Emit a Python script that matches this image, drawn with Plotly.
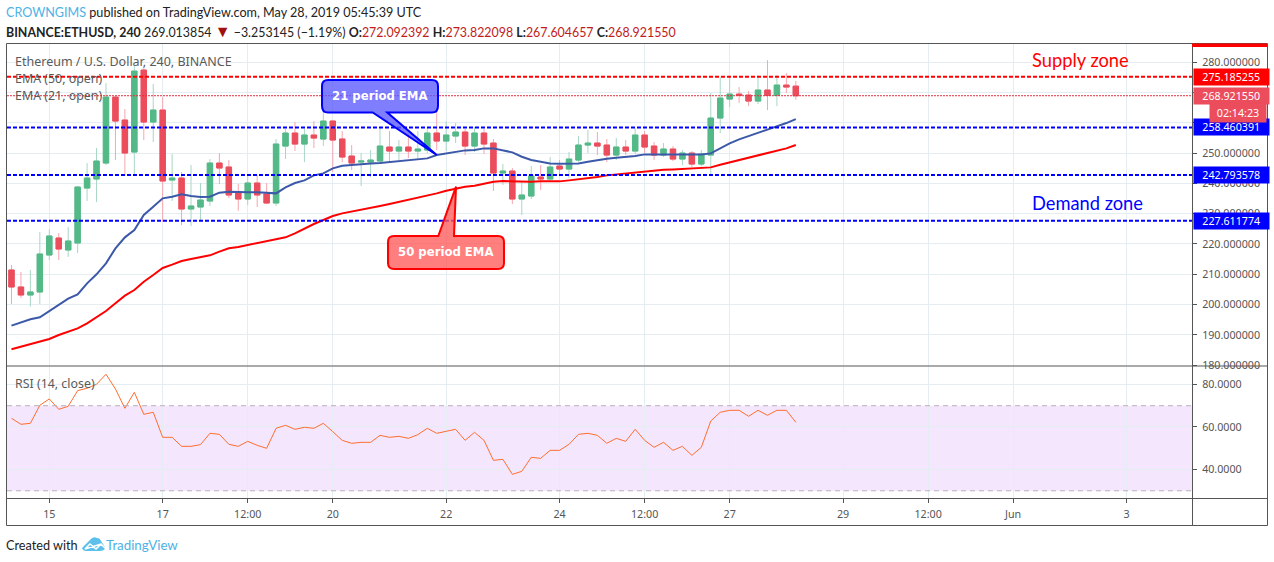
import pandas as pd
import plotly.graph_objects as go

W, H = 1274, 562

opens = [211.39,205.78,203.14,204.13,216.34,221.95,217.99,220.3,238.45,241.42,246.7,268.48,260.89,250.33,277.39,260.23,264.19,241.09,241.75,231.52,232.18,234.16,246.7,245.38,
         236.8,234.82,240.1,236.47,233.5,252.31,256.6,252.97,255.94,254.62,260.56,254.62,249.01,247.03,247.03,247.36,251.98,250.66,251.98,250.66,250.99,256.6,253.96,255.61,256.93,252.31,256.6,253.3,
         243.4,244.06,234.82,235.81,242.08,241.42,245.71,244.72,247.69,252.64,253.3,252.64,249.34,251.98,250.66,255.94,252.31,249.34,251.32,248.02,250.0,246.37,249.34,261.55,267.82,269.47,269.14,267.16,270.79,269.03,272.44,272.09]
highs = [213.04,210.73,211.39,223.93,224.81,223.6,225.58,239.11,246.7,251.65,273.1,268.6,264.52,278.71,278.05,272.77,268.48,249.67,243.73,246.04,240.1,248.02,250.0,247.69,
         239.77,243.07,242.74,240.1,254.62,257.92,260.23,257.92,260.56,265.18,260.89,257.26,252.64,250.0,250.99,258.58,257.26,254.29,256.27,257.26,258.58,265.18,260.56,259.9,257.92,258.58,257.92,254.62,
         246.37,245.05,240.43,245.71,246.04,248.68,247.69,250.33,255.61,257.59,256.93,254.62,254.95,254.29,258.25,257.26,253.63,253.3,252.31,250.99,250.66,250.99,269.8,275.08,275.08,271.78,270.46,275.74,280.69,275.74,276.4,273.82]
lows = [200.17,202.15,199.29,200.17,214.69,214.69,215.68,217.0,234.16,233.83,246.04,247.69,242.41,243.07,254.29,253.63,227.23,234.16,226.24,225.91,227.89,232.51,239.77,235.15,
        230.97,232.84,232.18,233.17,232.51,248.02,250.66,247.03,251.65,252.31,243.73,247.03,244.39,239.11,242.08,246.7,247.03,247.69,248.35,248.02,249.89,250.99,250.66,253.3,249.34,250.33,249.67,237.46,
        239.44,233.17,229.54,234.82,237.79,240.43,242.74,241.75,247.03,250.0,249.34,247.03,247.69,249.34,249.67,250.0,247.69,248.68,247.36,246.04,245.38,245.6,242.41,256.6,265.18,266.5,265.51,266.17,264.19,265.51,269.8,267.6]
closes = [205.78,203.14,204.13,216.67,222.61,218.32,220.96,238.78,241.75,247.36,268.48,260.56,250.0,277.06,260.23,264.19,240.76,241.75,231.52,232.51,234.49,246.7,245.05,236.14,
          234.82,240.1,236.14,233.5,252.97,256.6,252.97,255.94,254.95,260.56,254.29,248.68,246.7,247.36,247.69,252.31,250.66,251.98,250.66,251.32,256.6,253.96,255.94,256.93,252.31,256.6,252.97,243.4,
          244.06,234.82,236.14,242.41,241.42,245.38,244.72,248.02,252.64,253.3,252.31,249.34,251.98,250.66,255.94,251.98,249.34,251.32,248.02,250.0,246.37,249.67,261.55,268.15,269.47,269.03,267.16,270.79,269.03,272.44,271.78,268.92]

ema21 = [193.02,194.12,195.11,195.77,197.86,200.06,201.93,203.36,206.99,209.96,213.59,218.54,222.17,224.59,229.54,232.29,235.04,235.59,236.36,235.81,235.48,235.59,236.91,237.24,
         237.02,237.02,237.02,236.8,236.69,238.67,240.1,240.98,242.63,243.29,244.94,245.82,246.15,246.37,246.59,246.7,247.03,247.36,247.69,248.13,248.24,249.34,249.78,250.33,250.88,250.99,251.54,251.54,
         250.99,250.22,248.79,247.69,247.14,246.59,246.48,246.48,246.59,247.14,247.69,248.13,248.46,248.68,249.01,249.56,249.56,249.56,249.56,249.56,249.56,249.56,249.89,251.54,253.19,254.51,255.61,256.6,257.7,258.69,259.9,261.22]
ema50 = [185.21,186.09,186.97,187.63,188.62,189.94,191.04,192.14,193.79,195.77,197.86,200.39,202.92,204.79,207.54,209.74,212.05,213.15,214.36,215.02,215.57,216.23,217.44,218.54,
         219.0,219.64,220.19,220.85,221.4,222.17,223.49,225.14,226.57,227.89,229.21,230.09,230.64,231.19,231.85,232.51,233.17,233.83,234.49,235.15,235.81,236.69,237.57,238.34,238.89,239.22,239.77,240.54,
         240.76,240.65,240.65,240.54,240.65,240.65,240.65,240.98,241.31,241.64,242.08,242.63,242.96,243.18,243.51,243.84,244.17,244.5,244.61,244.83,245.05,245.16,245.27,246.15,246.92,247.69,248.46,249.12,249.89,250.66,251.54,252.64]
rsi = [64.08,61.25,61.72,70.2,73.18,68.31,69.72,77.1,78.2,80.08,84.79,77.88,68.78,76.31,65.96,66.9,55.13,55.13,50.9,50.9,51.68,57.02,56.54,51.84,50.9,53.25,51.37,49.96,59.37,60.78,58.9,59.84,59.37,61.72,57.8,53.72,52.31,52.78,52.78,56.07,55.13,55.6,54.66,56.39,
       59.37,57.02,57.96,58.9,53.72,57.49,53.72,44.31,44.78,37.72,39.13,45.72,45.25,49.01,49.01,51.84,56.54,57.02,56.07,52.31,54.66,53.25,58.9,53.72,50.43,52.78,49.01,50.9,46.66,50.43,62.82,66.9,67.84,67.84,65.02,67.84,65.49,67.84,67.84,62.19]

times = pd.date_range("2019-05-14 08:00", periods=len(closes), freq="4h")

tick_dates = ["2019-05-15", "2019-05-17", "2019-05-18 12:00", "2019-05-20", "2019-05-22", "2019-05-24",
              "2019-05-25 12:00", "2019-05-27", "2019-05-29", "2019-05-30 12:00", "2019-06-01", "2019-06-03"]
tick_labels = ["15", "17", "12:00", "20", "22", "24", "12:00", "27", "29", "12:00", "Jun", "3"]

supply_level = 275.185255
blue_levels = [258.460391, 242.793578, 227.611774]
last_price = 268.92155
countdown = "02:14:23"

GREEN = "#53B987"
RED = "#EB4D5C"
GREY = "#555555"
GRID = "#E4EDF2"
BLUE_TV = "#4DB2E6"
UI_FONT = "Noto Sans"
HEAD_FONT = "Lato"


def px(x):
    return x / W


def py(y):
    return 1 - y / H


def paper_path(parts):
    # parts: (command, x, y, ...) in page pixels
    out = []
    for part in parts:
        cmd, nums = part[0], part[1:]
        coords = []
        for i in range(0, len(nums), 2):
            coords.append(f"{px(nums[i]):.5f},{py(nums[i + 1]):.5f}")
        out.append(cmd + " ".join(coords))
    return " ".join(out) + " Z"


fig = go.Figure()

# light wicks under solid bodies
fig.add_trace(go.Candlestick(
    x=times, open=opens, high=highs, low=lows, close=closes,
    increasing=dict(line=dict(color="#A9D6C4", width=1), fillcolor="#A9D6C4"),
    decreasing=dict(line=dict(color="#F5A6AE", width=1), fillcolor="#F5A6AE"),
))
fig.add_trace(go.Candlestick(
    x=times, open=opens, close=closes,
    high=[max(o, c) for o, c in zip(opens, closes)],
    low=[min(o, c) for o, c in zip(opens, closes)],
    increasing=dict(line=dict(color=GREEN, width=1), fillcolor=GREEN),
    decreasing=dict(line=dict(color=RED, width=1), fillcolor=RED),
))
fig.add_trace(go.Scatter(x=times, y=ema21, mode="lines", line=dict(color="#3C58A8", width=2)))
fig.add_trace(go.Scatter(x=times, y=ema50, mode="lines", line=dict(color="#FF0000", width=2)))
fig.add_trace(go.Scatter(x=times, y=rsi, mode="lines", yaxis="y2", line=dict(color="#FF6D2E", width=1)))

# levels
fig.add_shape(type="line", xref="x domain", x0=0, x1=1, yref="y", y0=last_price, y1=last_price,
              line=dict(color="#E0303F", width=1, dash="2px,1px"))
fig.add_shape(type="line", xref="x domain", x0=0, x1=1, yref="y", y0=supply_level, y1=supply_level,
              line=dict(color="#FF0000", width=2, dash="4px,2px"))
for level in blue_levels:
    fig.add_shape(type="line", xref="x domain", x0=0, x1=1, yref="y", y0=level, y1=level,
                  line=dict(color="#0000FF", width=2, dash="4px,2px"))

# RSI band
fig.add_shape(type="rect", xref="x domain", x0=0, x1=1, yref="y2", y0=30, y1=70,
              fillcolor="#F4E7FD", line_width=0, layer="below")
for level in [30, 70]:
    fig.add_shape(type="line", xref="x domain", x0=0, x1=1, yref="y2", y0=level, y1=level,
                  line=dict(color="#B9B0BC", width=1, dash="5px,4px"))

# pane frame
fig.add_shape(type="rect", xref="paper", yref="paper", x0=px(6.5), x1=px(1267.5), y0=py(525.5), y1=py(43.5),
              line=dict(color=GREY, width=1))
fig.add_shape(type="line", xref="paper", yref="paper", x0=px(6.5), x1=px(1267.5), y0=py(366), y1=py(366),
              line=dict(color=GREY, width=1))
fig.add_shape(type="line", xref="paper", yref="paper", x0=px(6.5), x1=px(1267.5), y0=py(498.5), y1=py(498.5),
              line=dict(color=GREY, width=1))
fig.add_shape(type="line", xref="paper", yref="paper", x0=px(1192.5), x1=px(1192.5), y0=py(525.5), y1=py(43.5),
              line=dict(color=GREY, width=1))
fig.add_shape(type="rect", xref="paper", yref="paper", x0=px(1192), x1=px(1267), y0=py(47), y1=py(43.5),
              fillcolor="#FF0000", line_width=0)

# callouts
fig.add_shape(type="path", xref="paper", yref="paper", fillcolor="rgba(90,90,255,0.78)",
              line=dict(color="#0000FF", width=2),
              path=paper_path([("M", 328, 80), ("L", 432, 80), ("Q", 438, 80, 438, 86), ("L", 438, 106),
                               ("Q", 438, 112.5, 432, 112.5), ("L", 387.3, 112.5), ("L", 436.7, 155),
                               ("L", 372.7, 112.5), ("L", 328, 112.5), ("Q", 322, 112.5, 322, 106),
                               ("L", 322, 86), ("Q", 322, 80, 328, 80)]))
fig.add_shape(type="path", xref="paper", yref="paper", fillcolor="rgba(255,90,90,0.78)",
              line=dict(color="#FF0000", width=2),
              path=paper_path([("M", 394, 236), ("L", 438.3, 236), ("L", 456, 186.7), ("L", 454, 236),
                               ("L", 498, 236), ("Q", 504, 236, 504, 242), ("L", 504, 263),
                               ("Q", 504, 269, 498, 269), ("L", 394, 269), ("Q", 388, 269, 388, 263),
                               ("L", 388, 242), ("Q", 388, 236, 394, 236)]))

# logo
fig.add_shape(type="path", xref="paper", yref="paper", fillcolor="#5CC0EA", line_width=0,
              path=paper_path([("M", 82, 548), ("L", 90, 540), ("Q", 93, 536, 97, 538), ("Q", 100, 538, 101, 541),
                               ("L", 105, 547), ("L", 105, 549), ("Q", 103, 551, 100, 551), ("L", 86, 551),
                               ("Q", 83, 551, 82, 548)]))
fig.add_shape(type="path", xref="paper", yref="paper", line=dict(color="#FFFFFF", width=1.5),
              path=paper_path([("M", 85, 549), ("L", 90, 544), ("L", 96, 549), ("L", 101, 544), ("L", 106, 549), ("L", 101, 544)]))


def label(text, x, y, yref="paper", size=11, color=GREY, family=UI_FONT, anchor="left", **kw):
    fig.add_annotation(text=text, x=x, y=y, xref="paper", yref=yref, xanchor=anchor, yanchor="middle",
                       showarrow=False, align="left", font=dict(size=size, color=color, family=family), **kw)


def axis_tag(text, value, color):
    fig.add_annotation(text=text, x=px(1192.5), y=value, xref="paper", yref="y", xanchor="left", yanchor="middle",
                       showarrow=False, bgcolor=color, width=74.5, height=16, borderpad=0, align="center",
                       font=dict(size=10.7, color="white", family=UI_FONT))


axis_tag("275.185255", supply_level, "#FF0000")
axis_tag("268.921550", last_price, RED)
for level in blue_levels:
    axis_tag(f"{level:.6f}", level, "#0000FF")
fig.add_annotation(text=countdown, x=px(1267), y=py(113), xref="paper", yref="paper", xanchor="right", yanchor="middle",
                   showarrow=False, bgcolor=RED, width=56, height=18, borderpad=0, align="center",
                   font=dict(size=10.7, color="white", family=UI_FONT))

label("Ethereum / U.S. Dollar, 240, BINANCE", px(13), py(61), size=12.5, color="#5A5A5A")
label("EMA (50, open)", px(13), py(78), size=12.4, color="#5A5A5A")
label("EMA (21, open)", px(13), py(95), size=12.4, color="#5A5A5A")
label("RSI (14, close)", px(13), py(383), size=12.4, color="#5A5A5A")

label("Supply zone", px(1030), py(60), size=18.3, color="#FF0000", family=HEAD_FONT)
label("Demand zone", px(1030), py(203), size=18.3, color="#0000FF", family=HEAD_FONT)
label("<b>21 period EMA</b>", px(380), py(96), size=11.7, color="white", family="DejaVu Sans", anchor="center")
label("<b>50 period EMA</b>", px(446), py(252), size=11.7, color="white", family="DejaVu Sans", anchor="center")

label(f'<span style="color:{BLUE_TV}">CROWNGIMS</span> published on TradingView.com, May 28, 2019 05:45:39 UTC',
      px(4), py(13), size=12.6, color="#222222", family=HEAD_FONT)
red = "#C21B1B"
label(f'<b>BINANCE:ETHUSD, 240</b> 269.013854 <span style="color:#A01010;font-size:16px">▼</span> −3.253145 (−1.19%) '
      f'<b>O:</b><span style="color:{red}">272.092392</span> <b>H:</b><span style="color:{red}">273.822098</span> '
      f'<b>L:</b><span style="color:{red}">267.604657</span> <b>C:</b><span style="color:{red}">268.921550</span>',
      px(4), py(30), size=12.4, color="#222222", family=HEAD_FONT)
label("Created with", px(4), py(545), size=12.7, color="#222222", family=HEAD_FONT)
label("TradingView", px(104), py(545), size=13.3, color=BLUE_TV, family=HEAD_FONT)

x_start = times[0] - pd.Timedelta(hours=1.9)
x_end = times[0] + pd.Timedelta(hours=499.7)

fig.update_layout(
    width=W, height=H, margin=dict(l=0, r=0, t=0, b=0, autoexpand=False), boxgap=0.18,
    paper_bgcolor="white", plot_bgcolor="white", showlegend=False, hovermode=False,
    font=dict(family=UI_FONT, size=10.7, color=GREY),
    xaxis=dict(domain=[px(7), px(1192)], anchor="y2", range=[x_start, x_end], rangeslider=dict(visible=False),
               tickmode="array", tickvals=tick_dates, ticktext=tick_labels, showgrid=True, gridcolor=GRID,
               ticks="outside", ticklen=4, tickcolor=GREY, showline=False, zeroline=False, ticklabelstandoff=2),
    yaxis=dict(domain=[py(366), py(44)], range=[179.7, 286], side="right", anchor="x", tick0=180, dtick=10,
               tickformat=".6f", showgrid=True, gridcolor=GRID, ticks="outside", ticklen=4, tickcolor=GREY,
               showline=False, zeroline=False, ticklabelstandoff=3),
    yaxis2=dict(domain=[py(498), py(367)], range=[26.6, 88.2], side="right", anchor="x",
                tickvals=[40, 60, 80], tickformat=".4f", showgrid=True, gridcolor=GRID, ticks="outside",
                ticklen=4, tickcolor=GREY, showline=False, zeroline=False, ticklabelstandoff=3),
)

fig.write_html("out.html", post_script="document.body.style.margin='0';", config=dict(displayModeBar=False))
